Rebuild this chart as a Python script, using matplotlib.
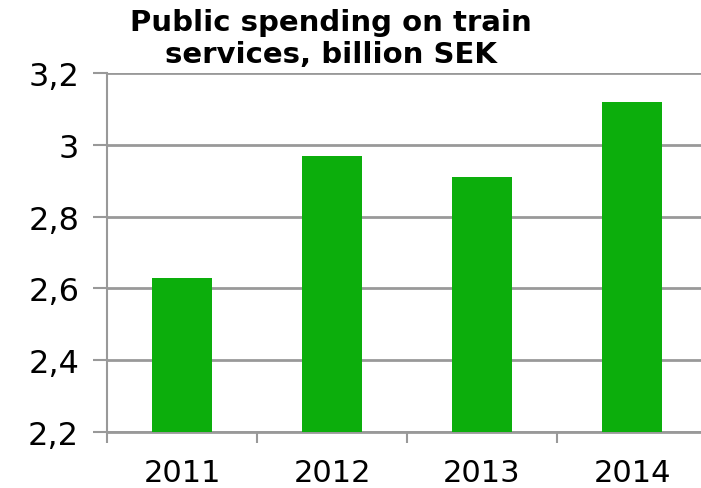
import matplotlib.pyplot as plt
from matplotlib.ticker import FuncFormatter

years = ['2011', '2012', '2013', '2014']
spending = [2.63, 2.97, 2.91, 3.12]
yticks = [2.2, 2.4, 2.6, 2.8, 3.0, 3.2]

plt.rcParams['font.family'] = ['DejaVu Sans']

fig = plt.figure(figsize=(7.01, 4.89), dpi=100)
ax = fig.add_axes([107/701, 56/489, 600/701, 359/489])

x = range(len(years))
ax.bar(x, [v - 2.2 for v in spending], bottom=2.2, width=0.4, color='#0cae0c', zorder=3)

ax.set_xlim(-0.5, 3.5)
ax.set_ylim(2.2, 3.2)
ax.set_yticks(yticks)
ax.yaxis.set_major_formatter(FuncFormatter(lambda v, p: ('%g' % round(v, 1)).replace('.', ',')))
# boundary ticks between categories, labels sit on the category centres
ax.set_xticks([i + 0.5 for i in range(-1, 4)], minor=False)
ax.set_xticklabels([])
ax.set_xticks(list(x), minor=True)
ax.set_xticklabels(years, minor=True)

ax.grid(axis='y', color='#999999', linewidth=2, zorder=0)
ax.set_axisbelow(True)
for s in ['top', 'right']:
    ax.spines[s].set_visible(False)
ax.spines['left'].set_color('#999999')
ax.spines['left'].set_linewidth(1.5)
ax.spines['bottom'].set_color('#999999')
ax.spines['bottom'].set_linewidth(2)

ax.tick_params(axis='y', which='major', length=10, width=1.5, color='#999999',
               labelsize=23, pad=10)
ax.tick_params(axis='x', which='major', length=8, width=1.5, color='#999999')
ax.tick_params(axis='x', which='minor', length=0, labelsize=22, pad=19)

fig.text(331/701, 1 - 39/489, 'Public spending on train\nservices, billion SEK',
         ha='center', va='center', fontsize=21, fontweight='bold', linespacing=1.15)

fig.savefig('out.png', dpi=100)
